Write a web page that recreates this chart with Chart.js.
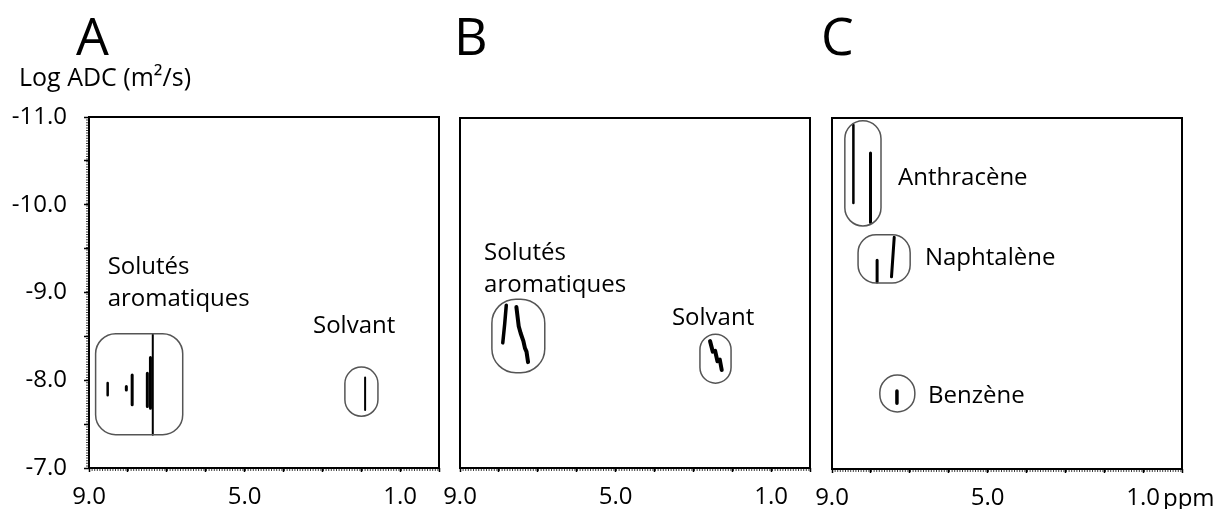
<!DOCTYPE html>
<html>
<head>
<meta charset="utf-8">
<script src="https://cdn.jsdelivr.net/npm/chart.js@4.4.1/dist/chart.umd.min.js"></script>
<style>
  body { margin: 0; background: #fff; }
  #wrap { position: relative; width: 1223px; height: 509px; font-family: 'Open Sans', sans-serif; color: #000; }
  #wrap canvas { position: absolute; left: 0; top: 0; }
  .t { position: absolute; line-height: 1; white-space: nowrap; }
</style>
</head>
<body>
<div id="wrap">
  <canvas id="cA" width="1223" height="509"></canvas>
  <canvas id="cB" width="1223" height="509"></canvas>
  <canvas id="cC" width="1223" height="509"></canvas>
  <div class="t" style="left:76px;top:9px;font-size:52px">A</div>
  <div class="t" style="left:454px;top:9px;font-size:52px">B</div>
  <div class="t" style="left:821px;top:9px;font-size:52px">C</div>
  <div class="t" style="left:19px;top:64px;font-size:25px">Log ADC (m²/s)</div>
  <div class="t" style="left:1163px;top:485px;font-size:24px">ppm</div>
</div>
<script>
// axes: chemical shift (ppm) and log ADC
const ppmTicks = [9, 5, 1];
const logTicks = [-11, -10, -9, -8, -7];

// panel A - mixture
const peaksA_ppm = [[8.52, 8.52], [8.04, 8.04], [7.89, 7.89], [7.50, 7.50], [7.42, 7.42], [7.36, 7.36], [1.90, 1.90]];
const peaksA_log = [[-7.97, -7.83], [-7.93, -7.89], [-8.06, -7.72], [-8.08, -7.70], [-8.26, -7.68], [-8.52, -7.38], [-8.03, -7.66]];
const boxesA = [[8.83, 6.59, -8.53, -7.38], [2.42, 1.57, -8.15, -7.59]];
const labelsA = ['Solutés', 'aromatiques', 'Solvant'];
const labelsA_ppm = [8.52, 8.52, 3.24];
const labelsA_log = [-9.21, -8.85, -8.54];

// panel B
const peaksB_ppm = [[7.81, 7.85, 7.90], [7.55, 7.49, 7.44, 7.37, 7.33, 7.29, 7.25], [2.57, 2.50, 2.44, 2.38, 2.32, 2.27]];
const peaksB_log = [[-8.86, -8.65, -8.43], [-8.84, -8.62, -8.54, -8.45, -8.37, -8.33, -8.21], [-8.45, -8.33, -8.34, -8.22, -8.24, -8.12]];
const boxesB = [[8.18, 6.82, -8.93, -8.09], [2.83, 2.03, -8.53, -7.97]];
const labelsB = ['Solutés', 'aromatiques', 'Solvant'];
const labelsB_ppm = [8.38, 8.38, 3.55];
const labelsB_log = [-9.38, -9.01, -8.64];

// panel C
const peaksC_ppm = [[8.45, 8.45], [8.01, 8.01], [7.84, 7.84], [7.40, 7.47], [7.33, 7.33]];
const peaksC_log = [[-10.92, -10.03], [-10.60, -9.81], [-9.38, -9.13], [-9.64, -9.19], [-7.89, -7.75]];
const boxesC = [[8.67, 7.74, -10.97, -9.77], [8.33, 6.99, -9.67, -9.12], [7.77, 6.87, -8.07, -7.65]];
const labelsC = ['Anthracène', 'Naphtalène', 'Benzène'];
const labelsC_ppm = [7.30, 6.61, 6.53];
const labelsC_log = [-10.24, -9.32, -7.75];

const FONT = "'Open Sans', sans-serif";
const W = 1223, H = 509;

function roundBox(ctx, x0, y0, x1, y1, r) {
  const l = Math.min(x0, x1), r2 = Math.max(x0, x1), t = Math.min(y0, y1), b = Math.max(y0, y1);
  r = Math.min(r, (r2 - l) / 2, (b - t) / 2);
  ctx.beginPath();
  ctx.moveTo(l + r, t);
  ctx.arcTo(r2, t, r2, b, r);
  ctx.arcTo(r2, b, l, b, r);
  ctx.arcTo(l, b, l, t, r);
  ctx.arcTo(l, t, r2, t, r);
  ctx.closePath();
  ctx.stroke();
}

function panel(id, area, showY, pp, pl, widths, boxes, radii, texts, tp, tl) {
  const datasets = pp.map((xs, i) => ({
    data: xs.map((x, j) => ({ x: x, y: pl[i][j] })),
    showLine: true,
    pointRadius: 0,
    borderColor: '#000',
    borderWidth: widths[i],
    borderCapStyle: 'round',
    borderJoinStyle: 'round'
  }));

  const decor = {
    id: 'decor',
    afterDatasetsDraw(chart) {
      const ctx = chart.ctx, a = chart.chartArea;
      const xs = chart.scales.x, ys = chart.scales.y;
      ctx.save();
      // frame
      ctx.strokeStyle = '#000';
      ctx.lineWidth = 2;
      ctx.strokeRect(a.left, a.top, a.right - a.left, a.bottom - a.top);
      // dotted minor ticks
      ctx.lineWidth = 1.5;
      ctx.setLineDash([1, 1.6]);
      ctx.beginPath();
      ctx.moveTo(a.left, a.bottom + 2);
      ctx.lineTo(a.right, a.bottom + 2);
      if (showY) {
        ctx.moveTo(a.left - 2, a.top);
        ctx.lineTo(a.left - 2, a.bottom);
      }
      ctx.stroke();
      ctx.setLineDash([]);
      // boxes round the signals
      ctx.strokeStyle = '#555';
      ctx.lineWidth = 1.5;
      boxes.forEach((b, i) => {
        roundBox(ctx, xs.getPixelForValue(b[0]), ys.getPixelForValue(b[2]),
          xs.getPixelForValue(b[1]), ys.getPixelForValue(b[3]), radii[i]);
      });
      // labels
      ctx.fillStyle = '#000';
      ctx.font = '24px ' + FONT;
      ctx.textBaseline = 'alphabetic';
      ctx.textAlign = 'left';
      texts.forEach((s, i) => {
        ctx.fillText(s, xs.getPixelForValue(tp[i]), ys.getPixelForValue(tl[i]));
      });
      ctx.restore();
    }
  };

  return new Chart(document.getElementById(id), {
    type: 'scatter',
    data: { datasets: datasets },
    options: {
      responsive: false,
      animation: false,
      devicePixelRatio: 1,
      layout: { padding: { left: showY ? 0 : area.left, right: W - area.right, top: area.top, bottom: 0 } },
      plugins: { legend: { display: false }, tooltip: { enabled: false } },
      scales: {
        x: {
          type: 'linear', min: 0, max: 9, reverse: true,
          afterFit: s => { s.height = H - area.bottom; },
          border: { display: false },
          grid: { drawOnChartArea: false, tickLength: 4, tickWidth: 1.5, tickColor: '#000' },
          ticks: {
            stepSize: 1, autoSkip: false, maxRotation: 0, padding: 11, color: '#000',
            font: { family: FONT, size: 24 },
            callback: v => ppmTicks.includes(v) ? v.toFixed(1) : ''
          }
        },
        y: {
          type: 'linear', min: -11, max: -7, reverse: true,
          display: showY,
          afterFit: s => { s.width = showY ? area.left : 0; },
          border: { display: false },
          grid: { drawOnChartArea: false, tickLength: 5, tickWidth: 1.5, tickColor: '#000' },
          ticks: {
            stepSize: 0.5, autoSkip: false, padding: 17, color: '#000',
            font: { family: FONT, size: 24 },
            callback: v => logTicks.includes(v) ? v.toFixed(1) : ''
          }
        }
      }
    },
    plugins: [decor]
  });
}

panel('cA', { left: 89, right: 439, top: 117, bottom: 468 }, true,
  peaksA_ppm, peaksA_log, [2.5, 3, 3, 3, 3, 2, 2], boxesA, [20, 99], labelsA, labelsA_ppm, labelsA_log);
panel('cB', { left: 460, right: 810, top: 118, bottom: 468 }, false,
  peaksB_ppm, peaksB_log, [3.5, 4, 4], boxesB, [24, 99], labelsB, labelsB_ppm, labelsB_log);
panel('cC', { left: 832, right: 1182, top: 118, bottom: 469 }, false,
  peaksC_ppm, peaksC_log, [2.5, 3, 3, 3, 3.5], boxesC, [99, 18, 99], labelsC, labelsC_ppm, labelsC_log);
</script>
</body>
</html>
